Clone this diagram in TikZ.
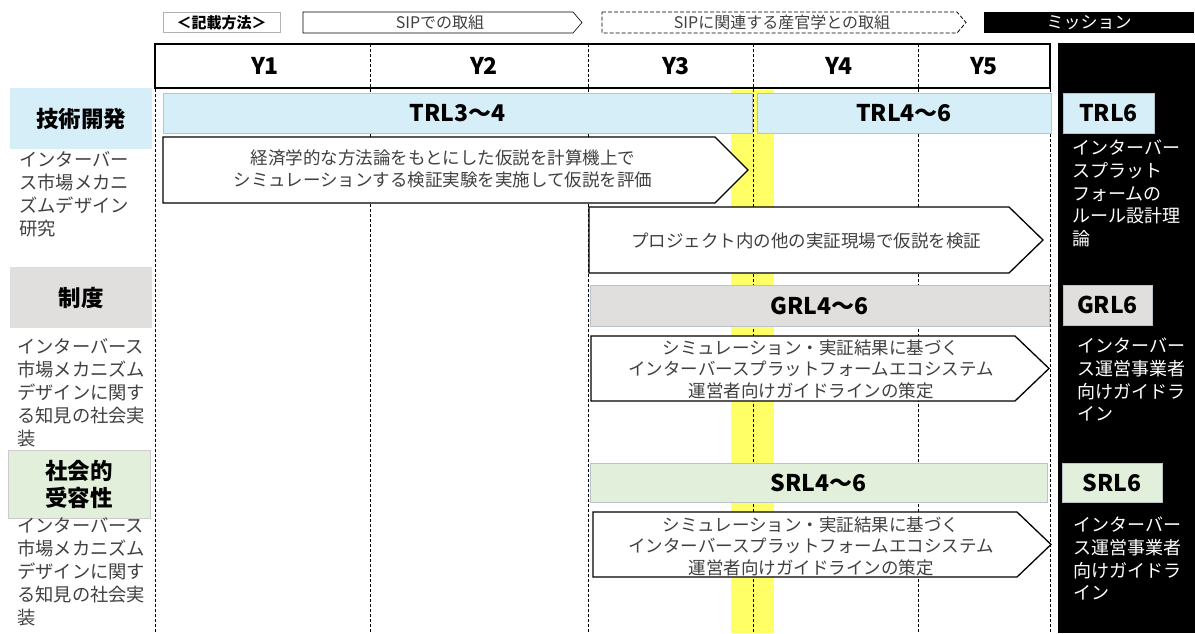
\documentclass[tikz,border=0pt]{standalone}
\usepackage{fontspec}
\setmainfont{Noto Sans CJK JP}
\usepackage{tikz}
\usetikzlibrary{positioning}
\definecolor{trlBlue}{RGB}{214,238,248}
\definecolor{grlGray}{RGB}{225,222,222}
\definecolor{srlGreen}{RGB}{226,240,219}
\definecolor{barEdge}{RGB}{185,196,202}
\definecolor{yrMark}{RGB}{255,255,102}
\definecolor{txtGray}{RGB}{64,64,64}

\begin{document}
\begin{tikzpicture}[
      x=1pt, y=-1pt,
      rowlabel/.style={rectangle, inner sep=0pt, minimum width=142pt, align=center, font=\bfseries\fontsize{22.5}{27}\selectfont},
      bar/.style={rectangle, draw=barEdge, thin, inner sep=0pt, font=\bfseries\fontsize{23}{27}\selectfont},
      goalbox/.style={rectangle, draw=barEdge, thin, inner sep=0pt, font=\bfseries\fontsize{23}{27}\selectfont},
      yearlabel/.style={font=\bfseries\fontsize{23}{27}\selectfont},
      desc/.style={anchor=north west, inner sep=0pt, align=left, text=txtGray, font=\fontsize{18.3}{23}\selectfont},
      mission/.style={anchor=north west, inner sep=0pt, align=left, text=white, font=\fontsize{18}{22.6}\selectfont},
      flowtxt/.style={inner sep=0pt, align=center, text=txtGray, font=\fontsize{17.5}{21.5}\selectfont},
      chev/.style={draw=black, line width=1.3pt, fill=white},
      legendtxt/.style={inner sep=0pt, text=txtGray, font=\fontsize{16}{18}\selectfont},
      yeardiv/.style={dash pattern=on 3pt off 2pt, thin}
  ]
      \useasboundingbox (0,0) rectangle (1195,633);

      \node[draw=black!30, minimum width=117pt, minimum height=20pt, inner sep=0pt, font=\bfseries\fontsize{15}{17}\selectfont] (howto) at (221.5,22.5) {＜記載方法＞};
      \draw[draw=black, semithick] (303,12) -- (573,12) -- (582,22.5) -- (573,33) -- (303,33) -- cycle;
      \node[legendtxt] (legsip) at (440,22.5) {SIPでの取組};
      \draw[draw=black, thick, dash pattern=on 4pt off 2pt] (602,12) -- (957,12) -- (966,22.5) -- (957,33) -- (602,33) -- cycle;
      \node[legendtxt] (legrel) at (782,22.5) {SIPに関連する産官学との取組};
      \node[fill=black, minimum width=210pt, minimum height=21pt, inner sep=0pt, text=white, font=\fontsize{17}{19}\selectfont] (legmis) at (1089,22.5) {ミッション};

      \fill[black] (1058,43) rectangle (1195,633);
      \fill[yrMark] (731,90) rectangle (774,633);

      \draw[line width=1.5pt] (155,44) rectangle (1050,88);
      \foreach \xd in {370,588,753,918}
        \draw[yeardiv] (\xd,44) -- (\xd,88);
      \foreach \xd in {155,370,588,753,918,1050}
        \draw[yeardiv] (\xd,89) -- (\xd,633);
      \node[yearlabel] (y1) at (265,66) {Y1};
      \node[yearlabel] (y2) at (484,66) {Y2};
      \node[yearlabel] (y3) at (676,66) {Y3};
      \node[yearlabel] (y4) at (839,66) {Y4};
      \node[yearlabel] (y5) at (984,66) {Y5};

      \node[rowlabel, fill=trlBlue, minimum height=61pt] (tech) at (81,118.5) {技術開発};
      \node[bar, fill=trlBlue, minimum width=589pt, minimum height=40pt] (trlA) at (457.5,113) {TRL3〜4};
      \node[bar, fill=trlBlue, minimum width=294pt, minimum height=40pt] (trlB) at (904,113) {TRL4〜6};
      \node[goalbox, fill=trlBlue, minimum width=91pt, minimum height=40pt] (trlG) at (1108.5,113) {TRL6};
      \node[desc] (techdesc) at (19,151) {インターバー\\ス市場メカニ\\ズムデザイン\\研究};
      \draw[chev] (163,137) -- (715,137) -- (748,170) -- (715,203) -- (163,203) -- cycle;
      \node[flowtxt] (simu) at (443,169) {経済学的な方法論をもとにした仮説を計算機上で\\シミュレーションする検証実験を実施して仮説を評価};
      \draw[chev] (589,207) -- (1009,207) -- (1043,240) -- (1009,273) -- (589,273) -- cycle;
      \node[flowtxt] (field) at (806,241) {プロジェクト内の他の実証現場で仮説を検証};
      \node[mission] (techmis) at (1072,140) {インターバー\\スプラット\\フォームの\\ルール設計理\\論};

      \node[rowlabel, fill=grlGray, minimum height=61pt] (inst) at (81,297.5) {制度};
      \node[bar, fill=grlGray, minimum width=459pt, minimum height=41pt] (grl) at (819.5,305.5) {GRL4〜6};
      \node[goalbox, fill=grlGray, minimum width=89pt, minimum height=40pt] (grlG) at (1107.5,305) {GRL6};
      \node[desc] (instdesc) at (17,338) {インターバース\\市場メカニズム\\デザインに関す\\る知見の社会実\\装};
      \draw[chev] (591,336) -- (1015,336) -- (1049,368.5) -- (1015,401) -- (591,401) -- cycle;
      \node[flowtxt] (guideA) at (811,369) {シミュレーション・実証結果に基づく\\インターバースプラットフォームエコシステム\\運営者向けガイドラインの策定};
      \node[mission] (instmis) at (1077,338) {インターバー\\ス運営事業者\\向けガイドラ\\イン};

      \node[rowlabel, draw=black!20, fill=srlGreen, minimum height=68pt] (soc) at (79,484) {社会的\\受容性};
      \node[bar, fill=srlGreen, minimum width=457pt, minimum height=39pt] (srl) at (818.5,482.5) {SRL4〜6};
      \node[goalbox, fill=srlGreen, minimum width=100pt, minimum height=39pt] (srlG) at (1112,482.5) {SRL6};
      \node[desc] (socdesc) at (17,517) {インターバース\\市場メカニズム\\デザインに関す\\る知見の社会実\\装};
      \draw[chev] (593,512) -- (1017,512) -- (1051,544.5) -- (1017,577) -- (593,577) -- cycle;
      \node[flowtxt] (guideB) at (811,546) {シミュレーション・実証結果に基づく\\インターバースプラットフォームエコシステム\\運営者向けガイドラインの策定};
      \node[mission] (socmis) at (1073,517) {インターバー\\ス運営事業者\\向けガイドラ\\イン};
  \end{tikzpicture}
\end{document}
